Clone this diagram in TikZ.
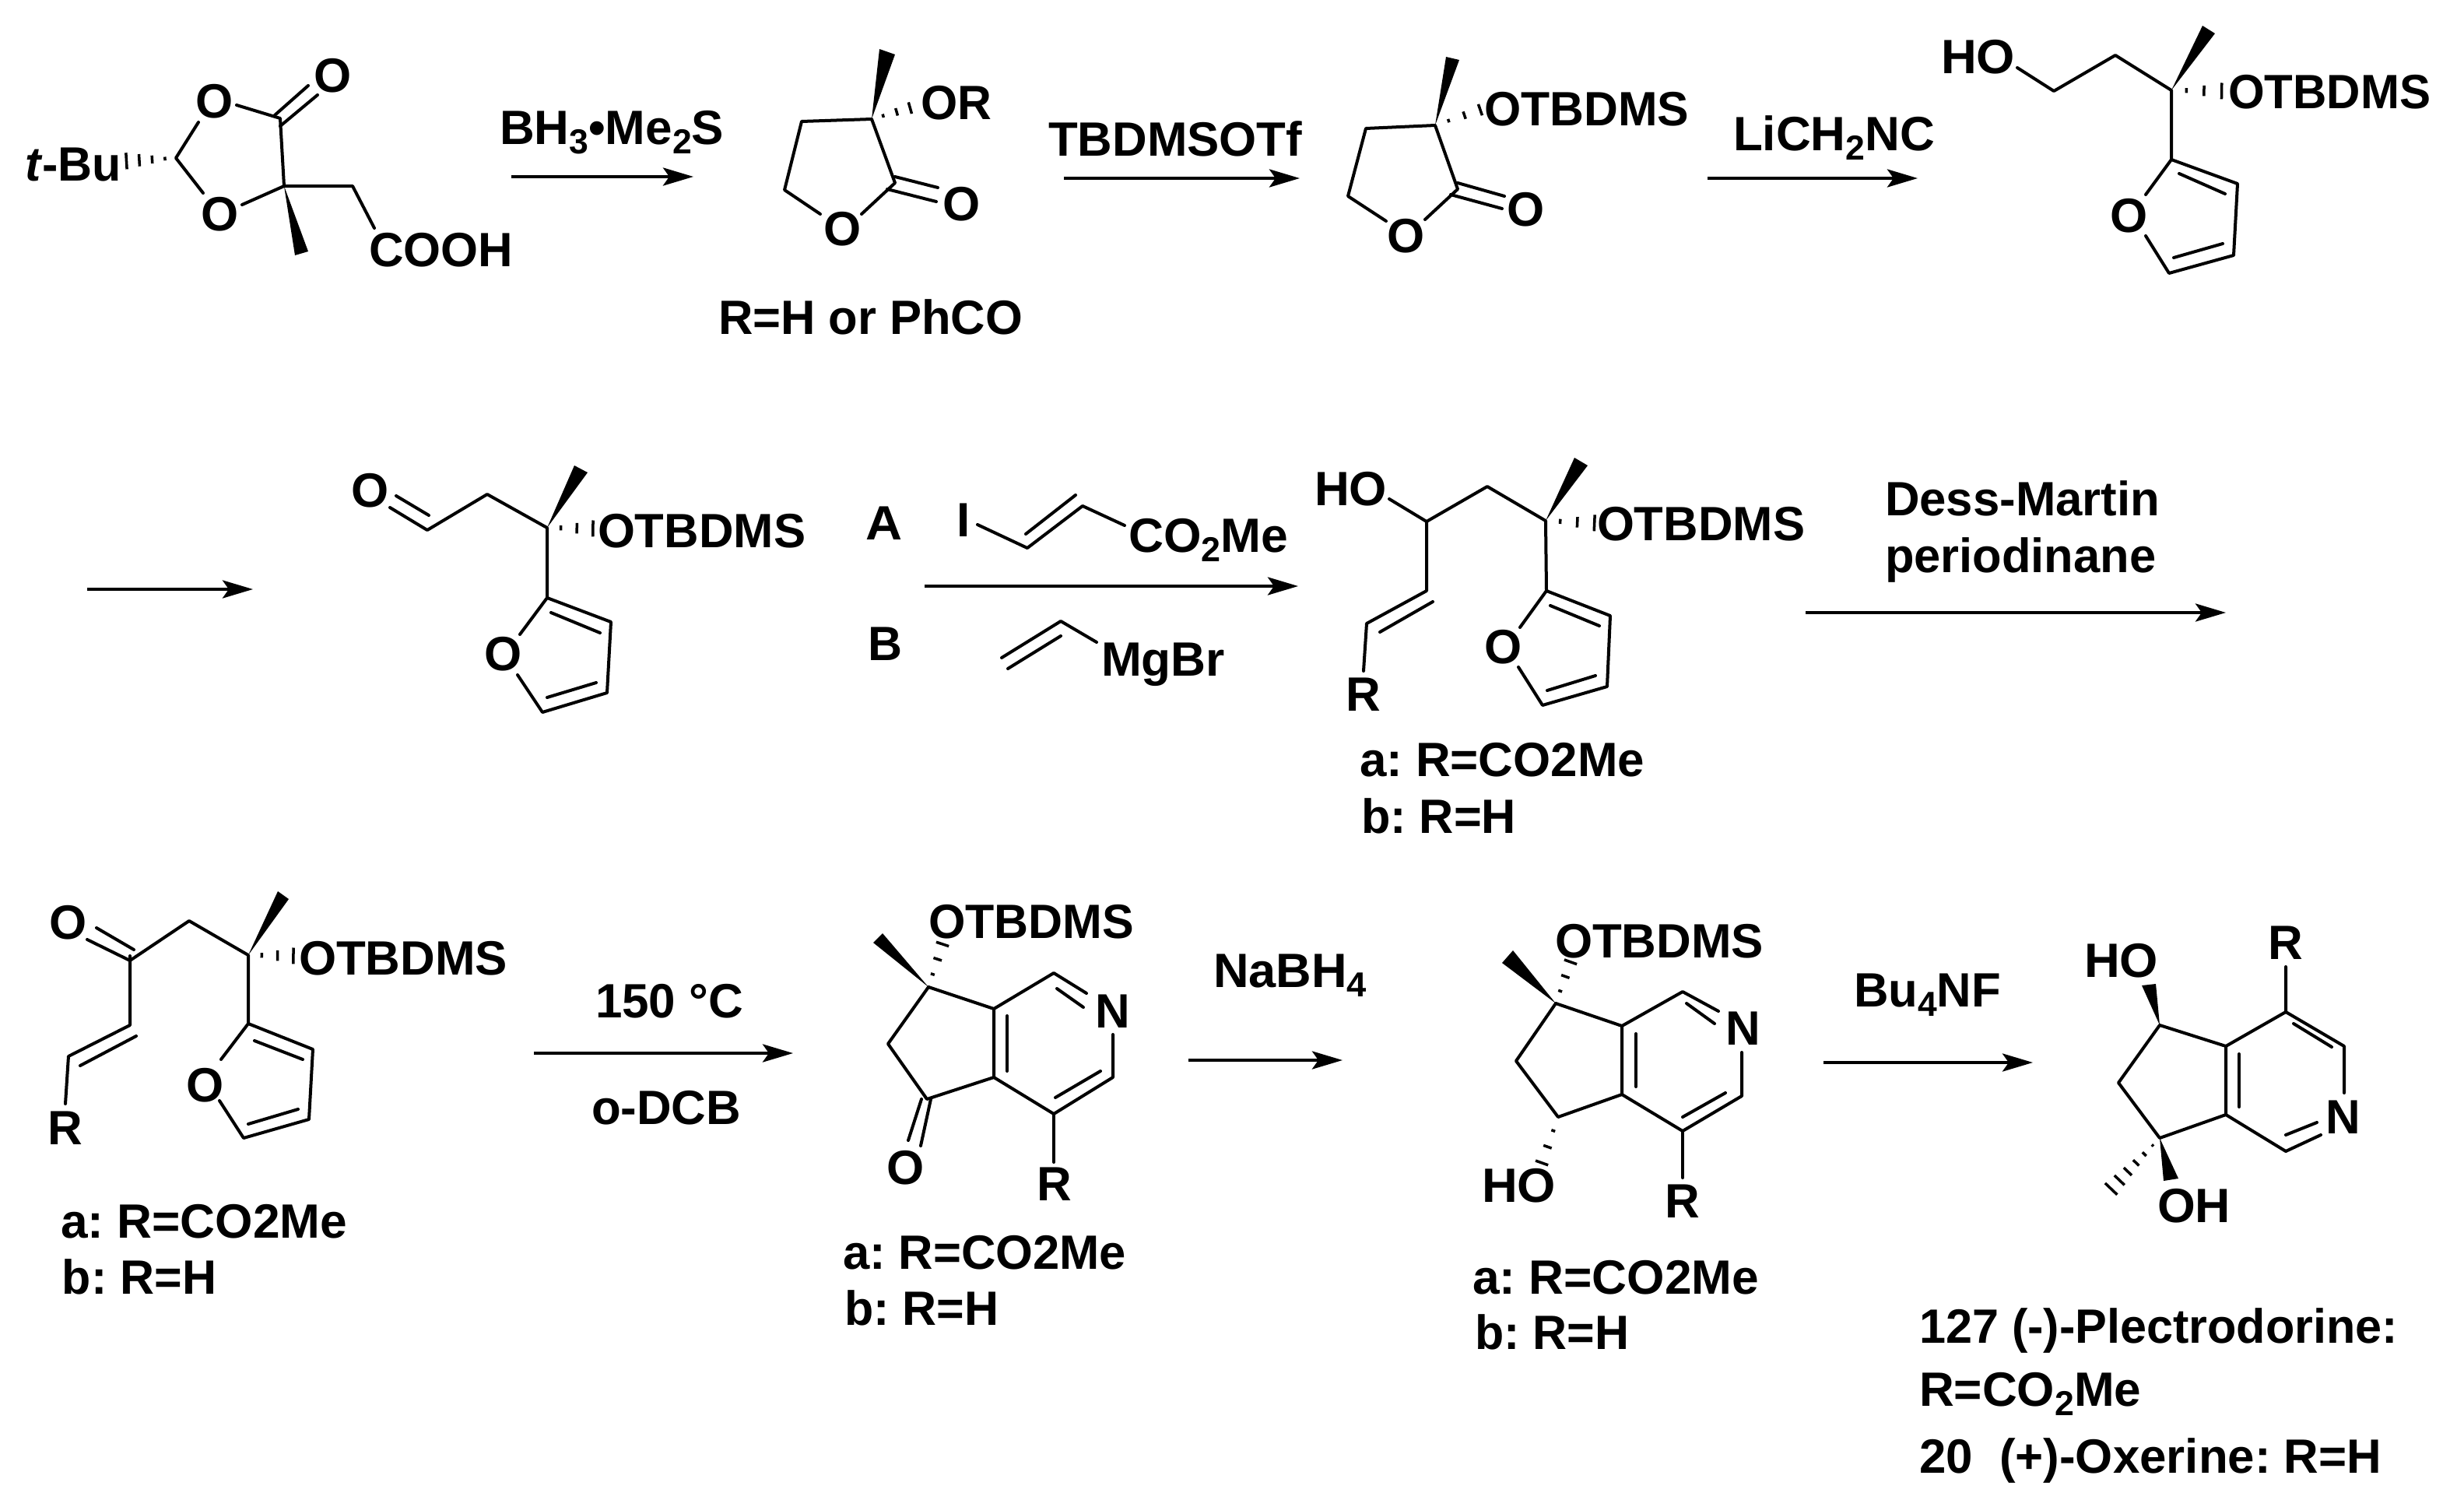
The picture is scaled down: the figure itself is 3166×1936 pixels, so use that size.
\documentclass[tikz,border=0pt]{standalone}
\usepackage{fontspec}
\usepackage{graphicx}
\setmainfont{Liberation Sans}
\usetikzlibrary{arrows.meta,calc}
\newlength\pxu
\setlength\pxu{0.1mm}
\newcommand\csub[1]{\raisebox{-0.2em}{\scalebox{0.72}{#1}}}
\newcommand\lbl[5]{\node[lab,anchor=base west] (#1) at ({#2-3},#3) {\resizebox{\dimexpr #4\pxu+6\pxu\relax}{\height}{#5}};}
\newcommand\atm[4]{\node[lab,anchor=base] (#1) at (#2,{#3+22}) {#4};}
\newcommand\hashed[4]{%
  \coordinate (hA) at #1; \coordinate (hB) at #2;
  \foreach \i in {1,...,#3}{%
    \pgfmathsetmacro\tt{(\i-0.15)/#3}%
    \pgfmathsetmacro\hh{#4*\tt*0.1}%
    \coordinate (hC) at ($(hA)!\tt!(hB)$);
    \draw[hashline] ($(hC)!\hh mm!90:(hB)$) -- ($(hC)!\hh mm!-90:(hB)$);
  }}
\tikzset{
  lab/.style={inner sep=0pt,outer sep=0pt,font=\fontsize{17.6pt}{20pt}\selectfont\bfseries\frenchspacing},
  bond/.style={line width=0.4mm,line join=round,line cap=round},
  hashline/.style={line width=0.35mm},
  rxn/.style={line width=0.42mm,-{Stealth[length=3.9mm,width=2.3mm,inset=0.8mm]}},
}
\begin{document}
\begin{tikzpicture}[x=0.01cm,y=-0.01cm]
\useasboundingbox (0,0) rectangle (3166,1936);
\fill[white] (0,0) rectangle (3166,1936);

% --- compound 1
\lbl{tbu}{35}{232}{118}{\textit{t}-Bu}
\atm{c1oa}{276}{129}{O}
\atm{c1ob}{283}{274}{O}
\atm{c1oc}{428}{96}{O}
\lbl{cooh}{477}{342}{179}{COOH}
\draw[bond] (255,157)--(226,203)--(261,248);
\draw[bond] (304,135)--(360,152)--(365,239)--(311,263);
\draw[bond] (365,239)--(453,239)--(481,293);
\draw[bond] (353,148)--(396,110);
\draw[bond] (360,162)--(408,122);
\fill (365,239)--(379,328)--(396,323)--cycle;
\hashed{(226,203)}{(160,207)}{4}{11}

\coordinate (a1s) at (657,227); \coordinate (a1e) at (891,227);
\draw[rxn] (a1s)--(a1e);
\lbl{t1}{645}{185}{282}{BH\csub{3}•Me\csub{2}S}

% --- compound 2
\atm{c2oa}{1083}{293}{O}
\atm{c2ob}{1236}{261}{O}
\lbl{c2or}{1186}{153}{85}{OR}
\lbl{c2r}{926}{429}{385}{R=H or PhCO}
\draw[bond] (1054,275)--(1008,244)--(1030,156)--(1120,153)--(1150,235)--(1107,275);
\draw[bond] (1150,227)--(1205,241);
\draw[bond] (1140,243)--(1203,259);
\fill (1120,153)--(1130,63)--(1150,70)--cycle;
\hashed{(1120,153)}{(1172,138)}{3}{8}

\coordinate (a2s) at (1367,229); \coordinate (a2e) at (1670,229);
\draw[rxn] (a2s)--(a2e);
\lbl{t2}{1350}{200}{320}{TBDMSOTf}

% --- compound 3
\atm{c3oa}{1807}{302}{O}
\atm{c3ob}{1961}{268}{O}
\lbl{c3ot}{1910}{161}{257}{OTBDMS}
\draw[bond] (1781,284)--(1732,252)--(1755,165)--(1844,161)--(1873,243)--(1831,282);
\draw[bond] (1873,235)--(1933,252);
\draw[bond] (1864,250)--(1930,268);
\fill (1844,161)--(1858,73)--(1875,77)--cycle;
\hashed{(1844,161)}{(1905,140)}{3}{8}

\coordinate (a3s) at (2194,229); \coordinate (a3e) at (2464,229);
\draw[rxn] (a3s)--(a3e);
\lbl{t3}{2230}{193}{253}{LiCH\csub{2}NC}

% --- compound 4
\lbl{c4ho}{2497}{94}{89}{HO}
\atm{c4o}{2736}{276}{O}
\lbl{c4ot}{2866}{139}{254}{OTBDMS}
\draw[bond] (2592,87)--(2639,117)--(2718,71)--(2790,116)--(2790,205)--(2875,236)--(2870,328)--(2787,351)--(2757,303);
\draw[bond] (2790,205)--(2757,250);
\draw[bond] (2800,223)--(2859,249);
\draw[bond] (2793,331)--(2856,313);
\fill (2790,116)--(2830,33)--(2846,43)--cycle;
\hashed{(2790,116)}{(2858,117)}{3}{11}

% --- row 2 free arrow
\coordinate (a4s) at (112,757); \coordinate (a4e) at (325,757);
\draw[rxn] (a4s)--(a4e);

% --- compound 5
\atm{c5oa}{476}{629}{O}
\atm{c5ob}{647}{839}{O}
\lbl{c5ot}{771}{703}{261}{OTBDMS}
\draw[bond] (501,652)--(549,681)--(626,635)--(703,678)--(703,768)--(785,799)--(780,890)--(697,915)--(665,867);
\draw[bond] (509,637)--(551,662);
\draw[bond] (703,768)--(668,815);
\draw[bond] (708,787)--(771,813);
\draw[bond] (703,896)--(766,877);
\fill (703,678)--(738,598)--(755,607)--cycle;
\hashed{(703,678)}{(765,679)}{3}{11}

\lbl{lA}{1115}{693}{41}{A}
\lbl{lB}{1118}{848}{38}{B}
\node[lab,anchor=base] (lI) at (1238,689) {I};
\draw[bond] (1256,674)--(1320,704)--(1391,650)--(1445,675);
\draw[bond] (1318,686)--(1382,636);
\lbl{lco}{1453}{709}{199}{CO\csub{2}Me}
\coordinate (a5s) at (1188,753); \coordinate (a5e) at (1668,753);
\draw[rxn] (a5s)--(a5e);
\draw[bond] (1409,825)--(1363,798)--(1287,845);
\draw[bond] (1363,817)--(1295,859);
\lbl{lmg}{1418}{868}{153}{MgBr}

% --- compound 6
\lbl{c6ho}{1692}{649}{87}{HO}
\atm{c6o}{1932}{830}{O}
\lbl{c6ot}{2055}{694}{261}{OTBDMS}
\node[lab,anchor=base] (c6r) at (1752,913) {R};
\draw[bond] (1785,641)--(1833,670)--(1911,625)--(1986,669)--(1987,759)--(2069,791)--(2065,882)--(1982,906)--(1951,857);
\draw[bond] (1833,670)--(1833,759)--(1756,801)--(1752,862);
\draw[bond] (1841,773)--(1773,812);
\draw[bond] (1987,759)--(1953,806);
\draw[bond] (1992,778)--(2055,804);
\draw[bond] (1988,887)--(2050,868);
\fill (1986,669)--(2023,588)--(2040,598)--cycle;
\hashed{(1986,669)}{(2052,672)}{3}{11}
\lbl{c6a}{1750}{997}{360}{a: R=CO2Me}
\lbl{c6b}{1752}{1070}{193}{b: R=H}

\lbl{t6a}{2425}{662}{347}{Dess-Martin}
\lbl{t6b}{2425}{735}{342}{periodinane}
\coordinate (a6s) at (2320,787); \coordinate (a6e) at (2860,787);
\draw[rxn] (a6s)--(a6e);

% --- compound 7
\atm{c7oa}{88}{1184}{O}
\atm{c7ob}{264}{1393}{O}
\lbl{c7ot}{387}{1252}{262}{OTBDMS}
\node[lab,anchor=base] (c7r) at (84,1470) {R};
\draw[bond] (112,1207)--(167,1234)--(243,1183)--(319,1227)--(319,1315)--(402,1348)--(397,1438)--(313,1462)--(282,1414);
\draw[bond] (124,1192)--(172,1220);
\draw[bond] (167,1228)--(167,1317)--(88,1357)--(84,1418);
\draw[bond] (175,1331)--(103,1369);
\draw[bond] (319,1315)--(284,1361);
\draw[bond] (327,1337)--(389,1361);
\draw[bond] (319,1444)--(383,1425);
\fill (319,1227)--(357,1145)--(371,1155)--cycle;
\hashed{(319,1227)}{(380,1228)}{3}{11}
\lbl{c7a}{81}{1590}{362}{a: R=CO2Me}
\lbl{c7b}{83}{1662}{192}{b: R=H}

\coordinate (a7s) at (686,1353); \coordinate (a7e) at (1019,1353);
\draw[rxn] (a7s)--(a7e);
\lbl{t7a}{768}{1307}{184}{150 °C}
\lbl{t7b}{763}{1444}{186}{o-DCB}

% --- compound 8
\lbl{c8ot}{1196}{1205}{258}{OTBDMS}
\atm{c8n}{1430}{1298}{N}
\atm{c8o}{1164}{1499}{O}
\node[lab,anchor=base] (c8r) at (1355,1542) {R};
\draw[bond] (1193,1268)--(1277,1296)--(1354,1250)--(1396,1276);
\draw[bond] (1193,1268)--(1141,1341)--(1191,1412)--(1277,1384)--(1277,1296);
\draw[bond] (1277,1384)--(1354,1431)--(1430,1384)--(1430,1329);
\draw[bond] (1354,1431)--(1354,1493);
\draw[bond] (1358,1270)--(1392,1294);
\draw[bond] (1294,1305)--(1294,1376);
\draw[bond] (1414,1376)--(1356,1410);
\draw[bond] (1196,1412)--(1183,1472);
\draw[bond] (1184,1412)--(1167,1465);
\fill (1193,1268)--(1134,1199)--(1122,1211)--cycle;
\hashed{(1193,1268)}{(1212,1210)}{3}{9}
\lbl{c8a}{1086}{1630}{358}{a: R=CO2Me}
\lbl{c8b}{1088}{1702}{192}{b: R=H}

\coordinate (a8s) at (1527,1362); \coordinate (a8e) at (1725,1362);
\draw[rxn] (a8s)--(a8e);
\lbl{t8}{1562}{1268}{191}{NaBH\csub{4}}

% --- compound 9
\lbl{c9ot}{2001}{1230}{262}{OTBDMS}
\atm{c9n}{2240}{1320}{N}
\lbl{c9ho}{1907}{1544}{89}{HO}
\node[lab,anchor=base] (c9r) at (2162,1564) {R};
\draw[bond] (1999,1289)--(2084,1318)--(2162,1274)--(2208,1299);
\draw[bond] (1999,1289)--(1948,1363)--(2002,1435)--(2084,1406)--(2084,1318);
\draw[bond] (2084,1406)--(2162,1453)--(2238,1408)--(2238,1352);
\draw[bond] (2162,1453)--(2162,1513);
\draw[bond] (2167,1289)--(2203,1315);
\draw[bond] (2102,1328)--(2102,1396);
\draw[bond] (2217,1404)--(2162,1435);
\fill (1999,1289)--(1944,1221)--(1930,1237)--cycle;
\hashed{(1999,1289)}{(2019,1233)}{3}{9}
\hashed{(2002,1435)}{(1980,1497)}{3}{9}
\lbl{c9a}{1895}{1662}{362}{a: R=CO2Me}
\lbl{c9b}{1898}{1733}{192}{b: R=H}

\coordinate (a9s) at (2343,1365); \coordinate (a9e) at (2612,1365);
\draw[rxn] (a9s)--(a9e);
\lbl{t9}{2385}{1293}{183}{Bu\csub{4}NF}

% --- compound 10
\lbl{c10ho}{2681}{1255}{89}{HO}
\lbl{c10oh}{2775}{1570}{88}{OH}
\node[lab,anchor=base] (c10r) at (2937,1232) {R};
\atm{c10n}{3011}{1434}{N}
\draw[bond] (2937,1242)--(2937,1300)--(3012,1344)--(3012,1404);
\draw[bond] (2937,1300)--(2860,1344)--(2775,1317)--(2722,1391)--(2775,1462)--(2860,1432)--(2860,1344);
\draw[bond] (2860,1432)--(2937,1479)--(2982,1458);
\draw[bond] (2937,1458)--(2977,1442);
\draw[bond] (2947,1315)--(2996,1345);
\draw[bond] (2877,1354)--(2877,1422);
\fill (2775,1317)--(2752,1266)--(2770,1264)--cycle;
\fill (2775,1462)--(2780,1517)--(2799,1514)--cycle;
\hashed{(2775,1462)}{(2711,1529)}{6}{11}
\lbl{c10a}{2469}{1725}{609}{127 (-)-Plectrodorine:}
\lbl{c10b}{2469}{1806}{279}{R=CO\csub{2}Me}
\lbl{c10c}{2469}{1892}{588}{20\ \ (+)-Oxerine: R=H}
\end{tikzpicture}
\end{document}
